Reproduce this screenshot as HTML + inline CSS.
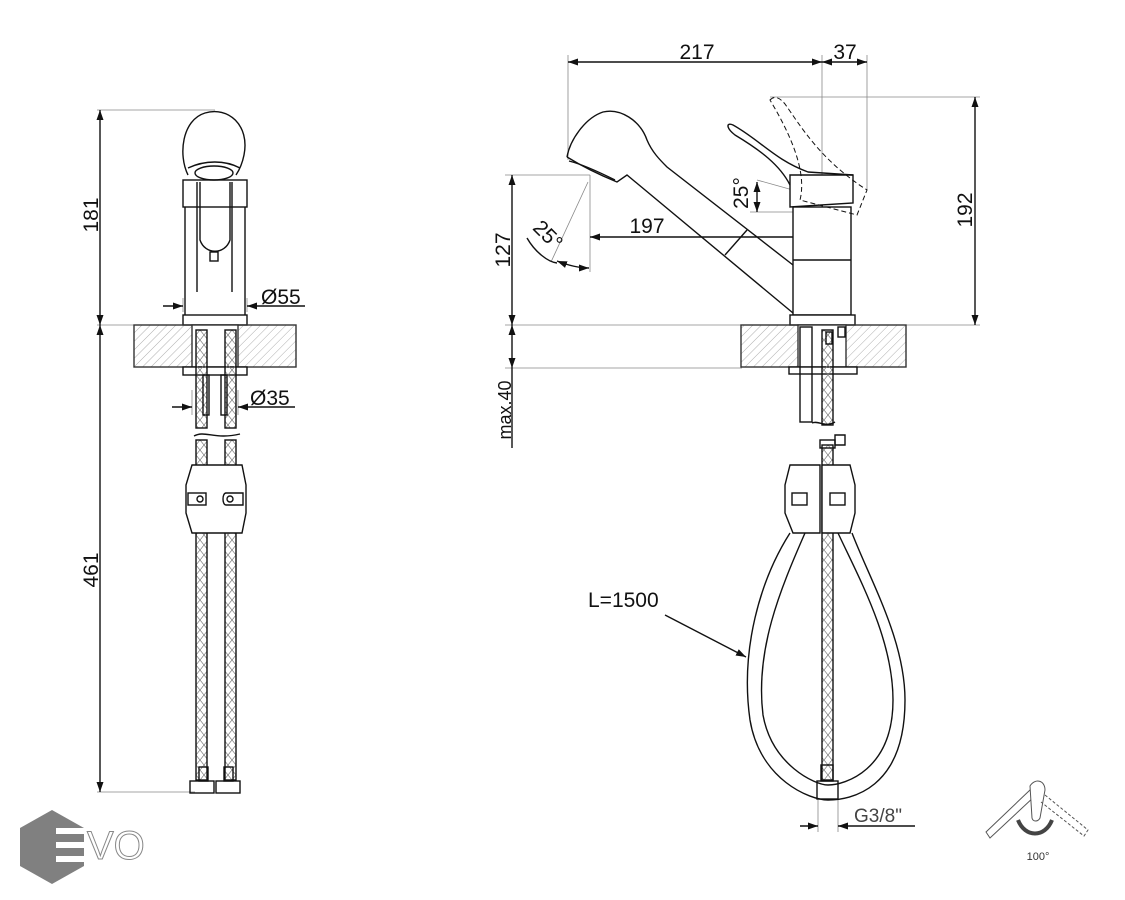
<!DOCTYPE html>
<html><head><meta charset="utf-8"><style>
html,body{margin:0;padding:0;background:#fff}
svg{display:block}
text{font-family:"Liberation Sans",sans-serif}
</style></head><body>
<svg width="1125" height="900" viewBox="0 0 1125 900" xmlns="http://www.w3.org/2000/svg">
<defs>
<pattern id="h" width="6" height="6" patternUnits="userSpaceOnUse" patternTransform="rotate(45)">
<line x1="0" y1="0" x2="0" y2="6" stroke="#999" stroke-width="0.8"/></pattern>
<pattern id="br" width="8" height="10" patternUnits="userSpaceOnUse">
<path d="M0 0L8 10M8 0L0 10" stroke="#777" stroke-width="0.7"/></pattern>
<marker id="a" viewBox="0 0 10 10" refX="10" refY="5" markerWidth="10" markerHeight="10" orient="auto-start-reverse" markerUnits="userSpaceOnUse"><path d="M0 1.5L10 5L0 8.5z" fill="#111"/></marker>
</defs>
<g fill="none" stroke="#111" stroke-width="1.4">
<!-- LEFT VIEW dims -->
<g stroke="#888" stroke-width="0.8">
<line x1="97" y1="110" x2="215" y2="110"/>
<line x1="97" y1="325" x2="185" y2="325"/>
<line x1="97" y1="792" x2="195" y2="792"/>
<line x1="183" y1="298" x2="183" y2="312"/><line x1="247" y1="298" x2="247" y2="312"/>
<line x1="192" y1="390" x2="192" y2="415"/><line x1="238" y1="390" x2="238" y2="415"/>
</g>
<line x1="100" y1="110" x2="100" y2="325" marker-start="url(#a)" marker-end="url(#a)"/>
<line x1="100" y1="325" x2="100" y2="792" marker-start="url(#a)" marker-end="url(#a)"/>
<line x1="163" y1="306" x2="183" y2="306" marker-end="url(#a)"/>
<line x1="305" y1="306" x2="247" y2="306" marker-end="url(#a)"/>
<line x1="172" y1="407" x2="192" y2="407" marker-end="url(#a)"/>
<line x1="295" y1="407" x2="238" y2="407" marker-end="url(#a)"/>
<!-- head -->
<path d="M188 175 C178 155 182 120 205 113 C228 106 250 125 244 155 C242 165 238 172 236 175"/>
<path d="M188 168 C205 160 225 160 240 168"/>
<ellipse cx="214" cy="173" rx="19" ry="7"/>
<rect x="183" y="180" width="64" height="27"/>
<line x1="185" y1="207" x2="185" y2="315"/><line x1="245" y1="207" x2="245" y2="315"/>
<line x1="197" y1="182" x2="197" y2="292"/><line x1="232" y1="182" x2="232" y2="292"/>
<path d="M200 182 V240 C205 255 225 255 230 240 V182"/>
<rect x="210" y="252" width="8" height="9"/>
<rect x="183" y="315" width="64" height="10"/>
<!-- counter left -->
<rect x="134" y="325" width="162" height="42" fill="url(#h)" stroke="#333"/>
<rect x="192" y="325" width="46" height="42" fill="#fff" stroke="#333"/>
<rect x="183" y="367" width="64" height="8" fill="#fff"/>
<rect x="196" y="330" width="11" height="98" fill="url(#br)"/>
<rect x="225" y="330" width="11" height="98" fill="url(#br)"/>
<rect x="203" y="375" width="6" height="40"/><rect x="221" y="375" width="6" height="40"/>
<path d="M194 436 C205 430 215 440 240 434"/>
<rect x="196" y="440" width="11" height="340" fill="url(#br)"/>
<rect x="225" y="440" width="11" height="340" fill="url(#br)"/>
<path d="M192 465 H242 L246 485 V513 L242 533 H192 L186 513 V485 Z" fill="#fff"/>
<rect x="188" y="493" width="18" height="12"/><circle cx="200" cy="499" r="3"/>
<path d="M226 493 H243 V505 H226 C222 505 222 493 226 493Z"/><circle cx="230" cy="499" r="3"/>
<rect x="199" y="767" width="9" height="14"/><rect x="224" y="767" width="9" height="14"/>
<rect x="190" y="781" width="24" height="12"/><rect x="216" y="781" width="24" height="12"/>
<!-- RIGHT VIEW dims -->
<g stroke="#888" stroke-width="0.8">
<line x1="568" y1="55" x2="568" y2="160"/>
<line x1="822" y1="55" x2="822" y2="245"/>
<line x1="867" y1="55" x2="867" y2="190"/>
<line x1="770" y1="97" x2="980" y2="97"/>
<line x1="505" y1="325" x2="980" y2="325"/>
<line x1="505" y1="175" x2="590" y2="175"/>
<line x1="505" y1="368" x2="742" y2="368"/>
<line x1="590" y1="175" x2="590" y2="272"/>
<line x1="588" y1="182" x2="551" y2="262"/>
<line x1="750" y1="212" x2="822" y2="212"/>
<line x1="757" y1="180" x2="800" y2="192"/>
<line x1="818" y1="798" x2="818" y2="832"/><line x1="838" y1="798" x2="838" y2="832"/>
</g>
<line x1="568" y1="62" x2="822" y2="62" marker-start="url(#a)" marker-end="url(#a)"/>
<line x1="822" y1="62" x2="867" y2="62" marker-start="url(#a)" marker-end="url(#a)"/>
<line x1="975" y1="97" x2="975" y2="325" marker-start="url(#a)" marker-end="url(#a)"/>
<line x1="512" y1="175" x2="512" y2="325" marker-start="url(#a)" marker-end="url(#a)"/>
<line x1="512" y1="325" x2="512" y2="368" marker-start="url(#a)" marker-end="url(#a)"/>
<line x1="512" y1="368" x2="512" y2="448"/>
<line x1="590" y1="237" x2="822" y2="237" marker-start="url(#a)" marker-end="url(#a)"/>
<line x1="757" y1="182" x2="757" y2="212" marker-start="url(#a)" marker-end="url(#a)"/>
<path d="M527 238 C535 252 548 262 557 263"/>
<path d="M557 261 Q575 268 589 268" marker-start="url(#a)" marker-end="url(#a)"/>
<line x1="800" y1="826" x2="818" y2="826" marker-end="url(#a)"/>
<line x1="915" y1="826" x2="838" y2="826" marker-end="url(#a)"/>
<line x1="665" y1="615" x2="746" y2="657" marker-end="url(#a)"/>
<!-- spout -->
<path d="M567 157 C570 140 585 118 603 112 C620 108 640 120 647 140 C652 152 660 160 667 167 L793 265"/>
<path d="M567 157 C580 165 600 175 617 182 L627 175 L793 313"/>
<path d="M569 161 C585 165 605 175 615 180"/>
<line x1="747" y1="230" x2="725" y2="255"/>
<!-- body -->
<rect x="793" y="207" width="58" height="108" fill="#fff"/>
<line x1="793" y1="260" x2="851" y2="260"/>
<path d="M790 207 V175 H853 V203 Z" fill="#fff"/>
<path d="M790 185 C780 165 760 150 735 135 C726 128 726 122 733 125 C760 140 775 160 808 172 L853 175"/>
<path d="M770 100 C775 95 780 98 785 104 C800 125 820 160 867 190 L857 215 L800 200 C805 180 800 150 770 100Z" stroke-dasharray="5 3" stroke-width="1"/>
<rect x="790" y="315" width="65" height="10" fill="#fff"/>
<!-- counter right -->
<rect x="741" y="325" width="165" height="42" fill="url(#h)" stroke="#333"/>
<rect x="798" y="325" width="48" height="42" fill="#fff" stroke="#333"/>
<rect x="789" y="367" width="68" height="7" fill="#fff"/>
<rect x="800" y="327" width="12" height="95"/>
<rect x="822" y="330" width="11" height="95" fill="url(#br)"/>
<rect x="826" y="332" width="6" height="12"/>
<rect x="838" y="327" width="7" height="10"/>
<path d="M812 423 C818 420 825 428 835 422"/>
<path d="M835 435 V445 H845 V435 Z"/>
<!-- hose loop -->
<path d="M790 533 C760 580 740 650 750 720 C760 780 810 800 828 800 C850 800 905 790 905 700 C905 640 870 580 852 533"/>
<path d="M805 533 C780 590 755 650 763 715 C772 765 815 785 828 785 C845 785 893 770 893 700 C893 640 860 580 838 533"/>
<rect x="822" y="445" width="11" height="335" fill="url(#br)"/>
<rect x="820" y="440" width="15" height="8"/>
<path d="M790 465 H820 V533 H793 L785 513 V485 Z" fill="#fff"/>
<path d="M822 465 H850 L855 485 V513 L850 533 H822 Z" fill="#fff"/>
<rect x="792" y="493" width="15" height="12"/><rect x="830" y="493" width="15" height="12"/>
<rect x="821" y="765" width="12" height="16"/>
<rect x="817" y="781" width="21" height="18"/>
</g>
<!-- text -->
<g font-size="21" style="fill:#111">
<text x="98" y="215" transform="rotate(-90 98 215)" text-anchor="middle">181</text>
<text x="98" y="570" transform="rotate(-90 98 570)" text-anchor="middle">461</text>
<text x="261" y="304">Ø55</text>
<text x="250" y="405">Ø35</text>
<text x="697" y="59" text-anchor="middle">217</text>
<text x="845" y="59" text-anchor="middle">37</text>
<text x="972" y="210" transform="rotate(-90 972 210)" text-anchor="middle">192</text>
<text x="510" y="250" transform="rotate(-90 510 250)" text-anchor="middle">127</text>
<text x="511" y="410" transform="rotate(-90 511 410)" text-anchor="middle" font-size="18">max.40</text>
<text x="647" y="233" text-anchor="middle">197</text>
<text x="543" y="240" transform="rotate(45 543 240)" text-anchor="middle">25°</text>
<text x="748" y="193" transform="rotate(-90 748 193)" text-anchor="middle">25°</text>
<text x="588" y="607">L=1500</text>
<text x="854" y="822" font-size="19" style="fill:#444">G3/8"</text>
</g>
<!-- logo -->
<path d="M52 810 L84 828 V866 L52 884 L20 866 V828 Z" fill="#808080"/>
<g fill="#fff"><rect x="56" y="828" width="30" height="6"/><rect x="56" y="842" width="30" height="6"/><rect x="56" y="856" width="30" height="6"/></g>
<text x="87" y="859" font-size="40" style="fill:#fff;stroke:#888;stroke-width:1">VO</text>
<!-- rotation icon -->
<g fill="none" stroke="#555" stroke-width="1">
<path d="M986 832 L1030 790 L1035 796 L990 838 Z"/>
<path d="M1030 786 C1035 778 1045 780 1045 790 L1040 818 C1038 822 1033 822 1032 818 Z" fill="#fff"/>
<path d="M1045 795 L1088 830 L1084 836 L1041 802" stroke-dasharray="3 2"/>
<path d="M1018 820 C1025 838 1045 838 1052 820" stroke="#444" stroke-width="4"/>
</g>
<text x="1038" y="860" font-size="11" text-anchor="middle" style="fill:#333">100°</text>
</svg>
</body></html>
